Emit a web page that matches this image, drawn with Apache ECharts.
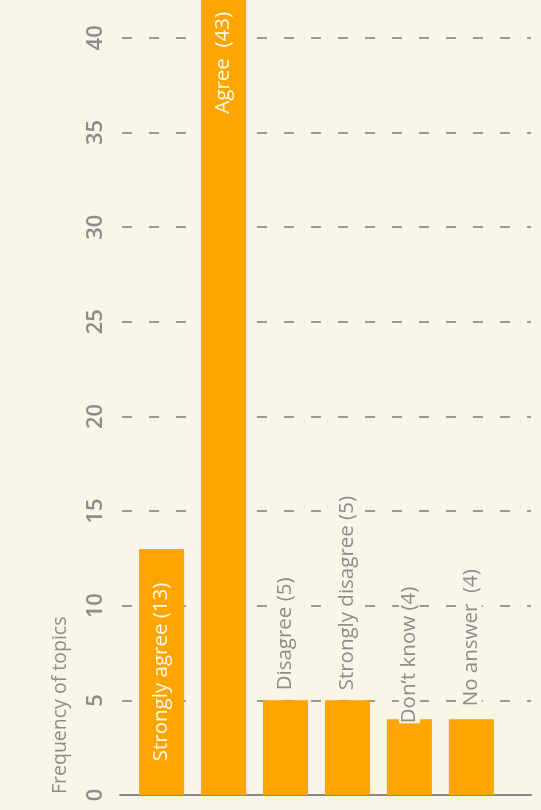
<!DOCTYPE html>
<html>
<head>
<meta charset="utf-8">
<script src="https://cdn.jsdelivr.net/npm/echarts@6/dist/echarts.min.js"></script>
<style>
html,body{margin:0;padding:0;background:#f9f6e8;}
#c{width:541px;height:810px;}
</style>
</head>
<body>
<div id="c"></div>
<script>
const categories = ['Strongly agree', 'Agree ', 'Disagree', 'Strongly disagree', "Don\u2019t know", 'No answer '];
const values = [13, 43, 5, 5, 4, 4];
const yTicks = [0, 5, 10, 15, 20, 25, 30, 35, 40];
const yAxisTitle = 'Frequency of topics';

const FONT = '"Open Sans", "Noto Sans", sans-serif';
const GRAY = '#8c8c8c';
const BG = '#f9f6e8';
const labelDistances = [0, 12, 10, 10, -4, 13];
const LFS = 20.5;

const data = values.map((v, i) => {
  let label;
  const text = categories[i] + ' (' + v + ')';
  if (i === 0) {
    label = {show: true, position: 'inside', rotate: 90, align: 'center', verticalAlign: 'middle',
      color: '#fffbea', fontSize: LFS, fontFamily: FONT, formatter: text};
  } else if (i === 1) {
    label = {show: true, position: 'insideTop', rotate: 90, align: 'right', verticalAlign: 'middle',
      distance: labelDistances[i], color: '#fffbea', fontSize: LFS, fontFamily: FONT, formatter: text};
  } else {
    label = {show: true, position: 'top', rotate: 90, align: 'left', verticalAlign: 'middle',
      distance: labelDistances[i], color: GRAY, fontSize: LFS, fontFamily: FONT, formatter: text,
      backgroundColor: BG, padding: [0, 0, 0, 0]};
  }
  return {value: [i, v], label: label};
});

const chart = echarts.init(document.getElementById('c'), null, {renderer: 'canvas'});
chart.setOption({
  backgroundColor: BG,
  animation: false,
  grid: {left: 120, right: 10, top: 0, bottom: 15, containLabel: false},
  xAxis: {
    type: 'value', min: -0.672, max: 5.963,
    axisLine: {show: true, lineStyle: {color: '#888', width: 2}},
    axisTick: {show: false}, axisLabel: {show: false}, splitLine: {show: false}
  },
  yAxis: {
    type: 'value', min: 0, max: 42, interval: 5,
    axisLine: {show: false}, axisTick: {show: false},
    axisLabel: {
      rotate: 90, margin: 13, fontSize: 22, fontWeight: 600, color: GRAY, fontFamily: FONT,
      showMaxLabel: false,
      formatter: v => yTicks.indexOf(v) >= 0 ? String(v) : ''
    },
    splitLine: {show: true, showMaxLine: false, showMinLine: false,
      lineStyle: {color: '#999', width: 2, type: [10, 17], dashOffset: -2}}
  },
  graphic: [{
    type: 'text', x: 60, y: 794, rotation: Math.PI / 2,
    style: {text: yAxisTitle, fontSize: 19.5, fontFamily: FONT, fill: GRAY, align: 'left', verticalAlign: 'middle'}
  }],
  series: [{
    type: 'bar', barWidth: 45, data: data,
    itemStyle: {color: '#ffa500'},
    clip: true
  }]
});
</script>
</body>
</html>
